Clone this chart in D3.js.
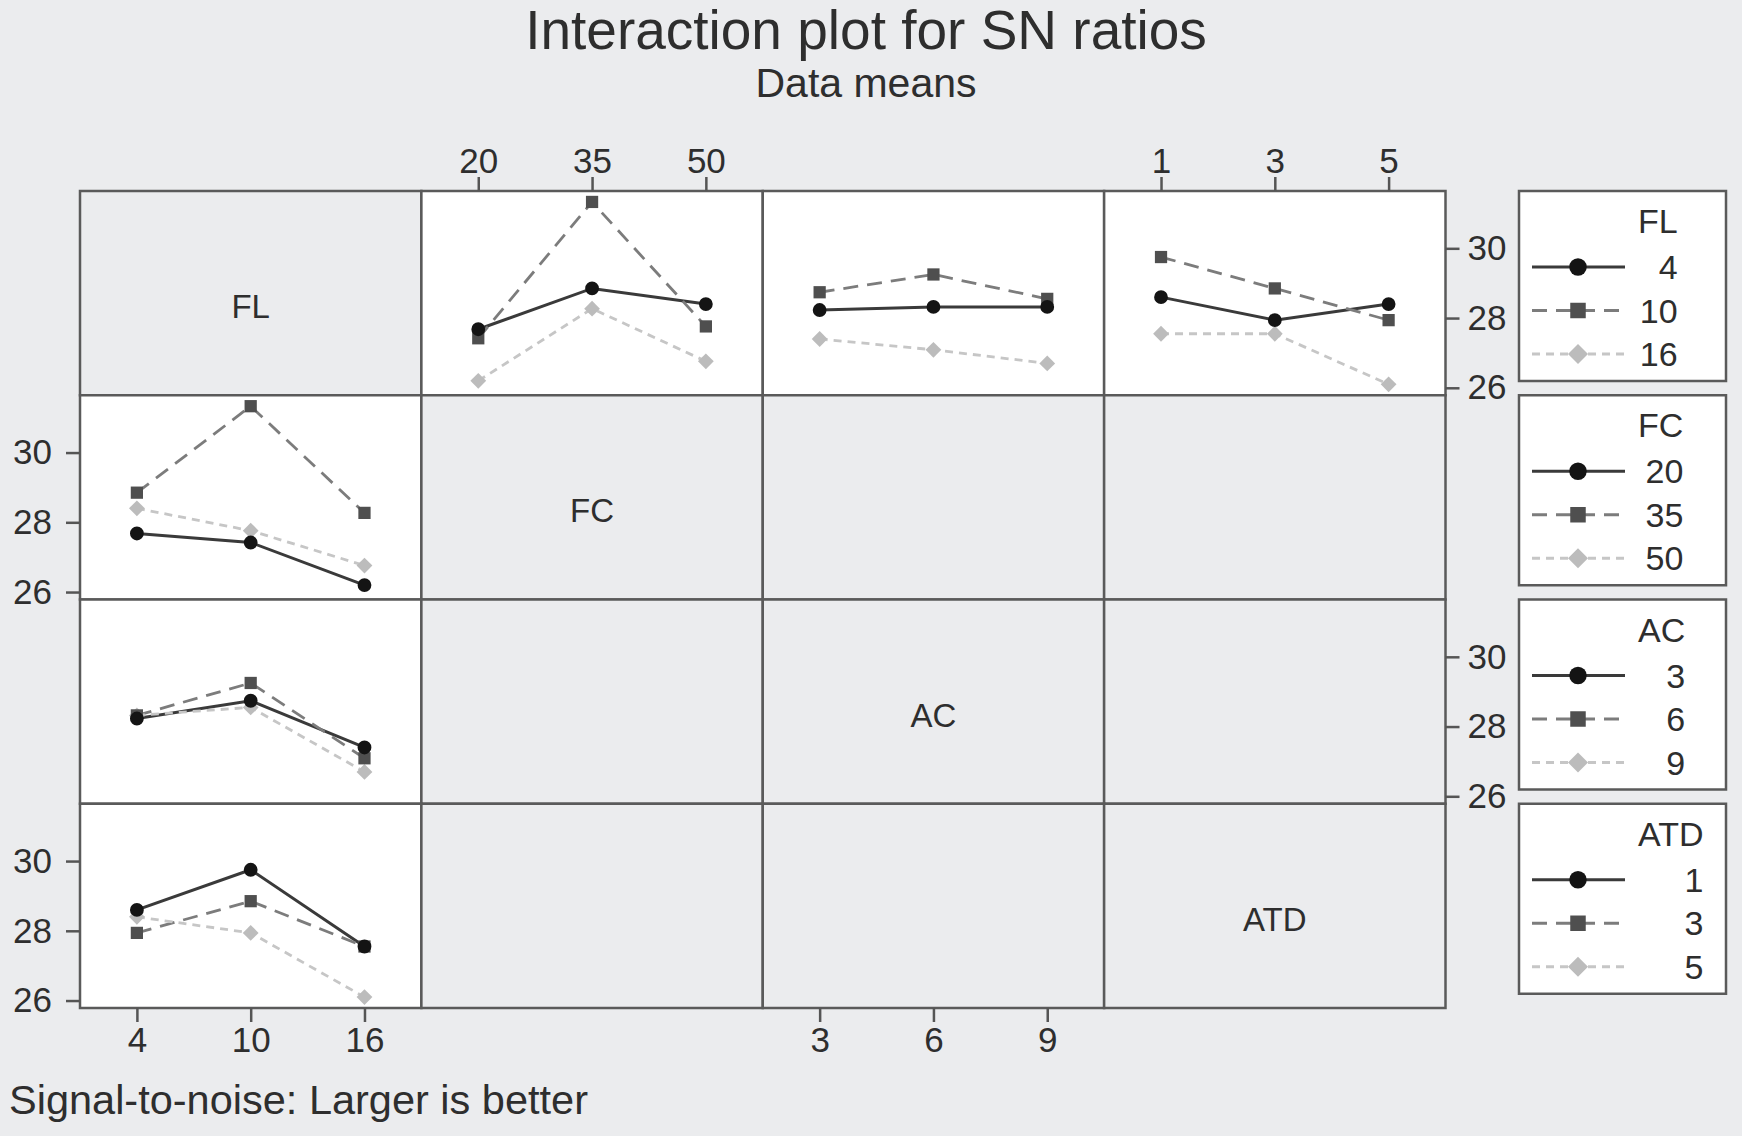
<!DOCTYPE html>
<html>
<head>
<meta charset="utf-8">
<script src="https://cdn.jsdelivr.net/npm/d3@7"></script>
<style>
  body { margin: 0; background: #ebecee; }
  svg text { font-family: "Liberation Sans", Arial, sans-serif; fill: #2e2e2e; }
  .axis path { display: none; }
  .axis line { stroke: #555; stroke-width: 2.5; }
  .axis text { font-size: 35px; }
</style>
</head>
<body>
<svg id="chart" width="1742" height="1136"></svg>
<script>
// 因子与水平
const factorNames = ['FL', 'FC', 'AC', 'ATD'];
const flLevels = [4, 10, 16];
const fcLevels = [20, 35, 50];
const acLevels = [3, 6, 9];
const atdLevels = [1, 3, 5];
const yTicks = [26, 28, 30];

// SN 比均值：行 = FL 水平，列 = 另一因子的水平
const snFLxFC = [
  [27.68, 28.85, 28.4],
  [27.42, 31.33, 27.76],
  [26.2, 28.27, 26.76],
];
const snFLxAC = [
  [28.23, 28.32, 28.32],
  [28.74, 29.25, 28.55],
  [27.4, 27.09, 26.7],
];
const snFLxATD = [
  [28.6, 27.94, 28.4],
  [29.75, 28.85, 27.94],
  [27.55, 27.55, 26.1],
];

const factorLevels = [flLevels, fcLevels, acLevels, atdLevels];
const flMatrices = [null, snFLxFC, snFLxAC, snFLxATD];

const svg = d3.select('#chart');
const grid = { x: 80, y: 191, w: 1365.5, h: 817 };
const cellW = grid.w / 4;
const cellH = grid.h / 4;

const seriesStyle = [
  { line: '#3a3a3a', dash: null, shape: 'circle', fill: '#141414', width: 3 },
  { line: '#7c7c7c', dash: '15 9', shape: 'square', fill: '#4f4f4f', width: 2.8 },
  { line: '#c6c6c6', dash: '8 6', shape: 'diamond', fill: '#bcbcbc', width: 2.8 },
];

function markerPath(shape, scale = 1) {
  if (shape === 'circle') return d3.symbol(d3.symbolCircle, 150 * scale)();
  if (shape === 'square') return d3.symbol(d3.symbolSquare, 150 * scale)();
  return d3.symbol(d3.symbolSquare, 125 * scale)();
}

// 全部数值的范围，上下各留少量空白
const allValues = [snFLxFC, snFLxAC, snFLxATD].flat(2);
const [vMin, vMax] = d3.extent(allValues);
const pad = (vMax - vMin) * 0.06;
const yDomain = [vMin - pad, vMax + pad];

// 标题
svg.append('text')
  .attr('x', 866).attr('y', 49)
  .attr('text-anchor', 'middle')
  .style('font-size', '55px')
  .text('Interaction plot for SN ratios');
svg.append('text')
  .attr('x', 866).attr('y', 97)
  .attr('text-anchor', 'middle')
  .style('font-size', '41px')
  .text('Data means');
svg.append('text')
  .attr('x', 9).attr('y', 1114)
  .style('font-size', '41.5px')
  .text('Signal-to-noise: Larger is better');

// 面板：第一行（线 = FL）与第一列（x = FL）
const panels = [];
for (let c = 1; c < 4; c++) {
  panels.push({
    row: 0, col: c,
    xLevels: factorLevels[c],
    lineLevels: flLevels,
    value: (li, xi) => flMatrices[c][li][xi],
  });
}
for (let r = 1; r < 4; r++) {
  panels.push({
    row: r, col: 0,
    xLevels: flLevels,
    lineLevels: factorLevels[r],
    value: (li, xi) => flMatrices[r][xi][li],
  });
}

const cells = d3.cross(d3.range(4), d3.range(4)).map(([row, col]) => ({
  row, col,
  plot: (row === 0 && col > 0) || (col === 0 && row > 0),
}));

svg.append('g')
  .selectAll('rect')
  .data(cells)
  .join('rect')
  .attr('x', (d) => grid.x + d.col * cellW)
  .attr('y', (d) => grid.y + d.row * cellH)
  .attr('width', cellW)
  .attr('height', cellH)
  .attr('fill', (d) => (d.plot ? '#ffffff' : '#ebecee'))
  .attr('stroke', '#5a5a5a')
  .attr('stroke-width', 2.5);

// 对角线上的因子名
svg.append('g')
  .selectAll('text')
  .data(factorNames)
  .join('text')
  .attr('x', (_, i) => grid.x + i * cellW + cellW / 2)
  .attr('y', (_, i) => grid.y + i * cellH + cellH / 2 + 25)
  .attr('text-anchor', 'middle')
  .style('font-size', '33px')
  .text((d) => d);

const xScaleFor = (col) => d3.scalePoint()
  .domain(factorLevels[col])
  .range([grid.x + col * cellW, grid.x + (col + 1) * cellW])
  .padding(0.5);
const yScaleFor = (row) => d3.scaleLinear()
  .domain(yDomain)
  .range([grid.y + (row + 1) * cellH, grid.y + row * cellH]);

const line = d3.line().x((d) => d.px).y((d) => d.py);

panels.forEach((p) => {
  const x = xScaleFor(p.col);
  const y = yScaleFor(p.row);
  const series = p.lineLevels.map((lvl, li) => ({
    li,
    points: p.xLevels.map((xv, xi) => ({ px: x(xv), py: y(p.value(li, xi)) })),
  }));

  const g = svg.append('g').attr('class', 'panel');
  g.selectAll('.series-line')
    .data(series)
    .join('path')
    .attr('class', 'series-line')
    .attr('d', (d) => line(d.points))
    .attr('fill', 'none')
    .attr('stroke', (d) => seriesStyle[d.li].line)
    .attr('stroke-width', (d) => seriesStyle[d.li].width)
    .attr('stroke-dasharray', (d) => seriesStyle[d.li].dash);

  series.slice().reverse().forEach((s) => {
    const st = seriesStyle[s.li];
    g.selectAll(null)
      .data(s.points)
      .join('path')
      .attr('d', markerPath(st.shape))
      .attr('fill', st.fill)
      .attr('transform', (d) => `translate(${d.px},${d.py})${st.shape === 'diamond' ? ' rotate(45)' : ''}`);
  });
});

// 坐标轴：Minitab 式交替摆放
const yFormat = d3.format('d');
[1, 3].forEach((col) => {
  svg.append('g')
    .attr('class', 'axis')
    .attr('transform', `translate(0,${grid.y})`)
    .call(d3.axisTop(xScaleFor(col)).tickSize(14).tickPadding(4));
});
[0, 2].forEach((col) => {
  svg.append('g')
    .attr('class', 'axis')
    .attr('transform', `translate(0,${grid.y + grid.h})`)
    .call(d3.axisBottom(xScaleFor(col)).tickSize(14).tickPadding(5));
});
[0, 2].forEach((row) => {
  svg.append('g')
    .attr('class', 'axis')
    .attr('transform', `translate(${grid.x + grid.w},0)`)
    .call(d3.axisRight(yScaleFor(row)).tickValues(yTicks).tickFormat(yFormat).tickSize(14).tickPadding(8));
});
[1, 3].forEach((row) => {
  svg.append('g')
    .attr('class', 'axis')
    .attr('transform', `translate(${grid.x},0)`)
    .call(d3.axisLeft(yScaleFor(row)).tickValues(yTicks).tickFormat(yFormat).tickSize(14).tickPadding(14));
});

// 图例
const legendX = 1519;
const legendW = 207;
const legendH = 190;
const textLeft = 1638;

factorNames.forEach((name, i) => {
  const lg = svg.append('g')
    .attr('class', 'legend')
    .attr('transform', `translate(${legendX},${grid.y + i * cellH})`);

  lg.append('rect')
    .attr('width', legendW)
    .attr('height', legendH)
    .attr('fill', '#ffffff')
    .attr('stroke', '#5a5a5a')
    .attr('stroke-width', 2.5);

  const items = factorLevels[i].map((lvl, li) => ({ lvl, li, y: 76 + li * 43.5 }));

  lg.selectAll('.legend-line')
    .data(items)
    .join('line')
    .attr('class', 'legend-line')
    .attr('x1', 13).attr('x2', 106)
    .attr('y1', (d) => d.y).attr('y2', (d) => d.y)
    .attr('stroke', (d) => seriesStyle[d.li].line)
    .attr('stroke-width', (d) => seriesStyle[d.li].width)
    .attr('stroke-dasharray', (d) => seriesStyle[d.li].dash);

  lg.selectAll('.legend-marker')
    .data(items)
    .join('path')
    .attr('class', 'legend-marker')
    .attr('d', (d) => markerPath(seriesStyle[d.li].shape, 1.6))
    .attr('fill', (d) => seriesStyle[d.li].fill)
    .attr('transform', (d) => `translate(59,${d.y})${seriesStyle[d.li].shape === 'diamond' ? ' rotate(45)' : ''}`);

  const texts = [{ t: name, y: 42 }, ...items.map((d) => ({ t: String(d.lvl), y: d.y + 12 }))];
  const labels = lg.selectAll('.legend-text')
    .data(texts)
    .join('text')
    .attr('class', 'legend-text')
    .attr('y', (d) => d.y)
    .style('font-size', '34px')
    .text((d) => d.t);
  const maxW = d3.max(labels.nodes(), (n) => n.getComputedTextLength());
  labels
    .attr('text-anchor', 'end')
    .attr('x', textLeft - legendX + maxW);
});
</script>
</body>
</html>
